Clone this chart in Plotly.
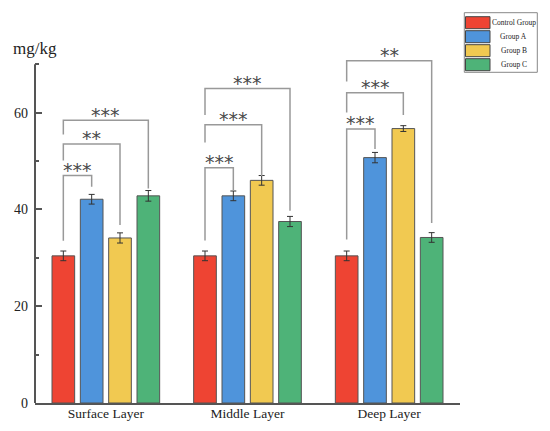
import plotly.graph_objects as go

layers = ["Surface Layer", "Middle Layer", "Deep Layer"]
groups = ["Control Group", "Group A", "Group B", "Group C"]
colors = ["#EE4433", "#4F94DB", "#F1C951", "#4EB378"]

control = [30.4, 30.4, 30.4]
group_a = [42.1, 42.8, 50.7]
group_b = [34.1, 46.0, 56.7]
group_c = [42.8, 37.5, 34.2]
values = [control, group_a, group_b, group_c]

err_control = [1.0, 1.0, 1.0]
err_a = [1.0, 1.0, 1.07]
err_b = [1.05, 1.0, 0.6]
err_c = [1.1, 1.05, 1.0]
errors = [err_control, err_a, err_b, err_c]

# significance brackets: layer index, compared group, left foot, top, right foot, label
sig_layer = [0, 0, 0, 1, 1, 1, 2, 2, 2]
sig_group = [1, 2, 3, 1, 2, 3, 1, 2, 3]
sig_left = [33.5, 50.1, 55.5, 33.6, 53.8, 59.5, 33.8, 60.0, 66.4]
sig_top = [47.0, 53.5, 58.4, 48.6, 57.5, 65.0, 56.6, 64.1, 70.7]
sig_right = [44.7, 36.8, 44.3, 43.9, 46.9, 39.7, 52.5, 59.5, 37.2]
sig_text = ["***", "**", "***", "***", "***", "***", "***", "***", "**"]

# the page body adds an 8px offset, so the figure is a bit smaller than the window
PAGE, OFF = (550, 431), 8
W, H = PAGE[0] - OFF, PAGE[1] - OFF
ML, MR, MT, MB = 35 - OFF, 90, 40 - OFF, 28
pw, ph = W - ML - MR, H - MT - MB


def px(x):
    # page pixel -> paper x
    return (x - OFF - ML) / pw


def py(y):
    # page pixel -> paper y
    return (PAGE[1] - MB - y) / ph


serif = "Liberation Serif"

fig = go.Figure()
for name, col, vals, errs in zip(groups, colors, values, errors):
    fig.add_trace(go.Bar(
        x=[0, 1, 2], y=vals, name=name,
        marker=dict(color=col, line=dict(color="#555555", width=1)),
        error_y=dict(type="data", array=errs, color="#333333", thickness=1, width=3),
        showlegend=False,
    ))

shapes = []
annotations = []
slot = 0.2
for g, t, lo, top, ro, txt in zip(sig_layer, sig_group, sig_left, sig_top, sig_right, sig_text):
    xl = g - 0.3
    xr = g - 0.3 + slot * t
    shapes.append(dict(
        type="path", xref="x", yref="y",
        path=f"M {xl},{lo} L {xl},{top} L {xr},{top} L {xr},{ro}",
        line=dict(color="#999999", width=1.5),
    ))
    annotations.append(dict(
        x=(xl + xr) / 2, y=top + 1.2, xref="x", yref="y", text=txt,
        showarrow=False, xanchor="center", yanchor="middle",
        font=dict(family="DejaVu Sans", size=19, color="#4a4a4a"),
    ))

# y axis line only up to 70
shapes.append(dict(type="line", xref="paper", yref="y", x0=0, x1=0, y0=0, y1=70,
                   line=dict(color="#555555", width=2)))

# legend box drawn by hand
shapes.append(dict(type="rect", xref="paper", yref="paper",
                   x0=px(464.3), x1=px(537.3), y0=py(72.3), y1=py(12.7),
                   line=dict(color="#888888", width=1), fillcolor="white"))
row_tops = [16.7, 30.7, 44.7, 58.7]
for name, col, rt in zip(groups, colors, row_tops):
    shapes.append(dict(type="rect", xref="paper", yref="paper",
                       x0=px(465.5), x1=px(490), y0=py(rt + 12), y1=py(rt),
                       line=dict(color="#444444", width=1), fillcolor=col))
    annotations.append(dict(x=px(513.5), y=py(rt + 6), xref="paper", yref="paper",
                            text=name, showarrow=False, xanchor="center", yanchor="middle",
                            font=dict(family=serif, size=7.5, color="#222222")))

annotations.append(dict(x=px(34.7), y=py(48.3), xref="paper", yref="paper", text="mg/kg",
                        showarrow=False, xanchor="center", yanchor="middle",
                        font=dict(family=serif, size=17, color="#222222")))

fig.update_layout(
    width=W, height=H,
    margin=dict(l=ML, r=MR, t=MT, b=MB),
    paper_bgcolor="white", plot_bgcolor="white",
    barmode="group", bargap=0.2, bargroupgap=0.2,
    shapes=shapes, annotations=annotations,
    font=dict(family=serif, color="#222222"),
)
fig.update_xaxes(
    range=[-0.5, 2.5], tickvals=[0, 1, 2], ticktext=layers,
    showline=True, linecolor="#555555", linewidth=2, ticks="",
    showgrid=False, zeroline=False, automargin=False, ticklabelstandoff=-3,
    tickfont=dict(family=serif, size=13.5, color="#222222"),
)
fig.update_yaxes(
    range=[0, 75], tickvals=[0, 20, 40, 60], showline=False,
    ticks="inside", ticklen=7, tickwidth=1.5, tickcolor="#555555",
    minor=dict(tickvals=[10, 30, 50, 70], ticks="inside", ticklen=4, tickwidth=1.5,
               tickcolor="#555555"),
    showgrid=False, zeroline=False, ticklabelstandoff=6, automargin=False,
    tickfont=dict(family=serif, size=14, color="#222222"),
)
fig.write_html("out.html")
